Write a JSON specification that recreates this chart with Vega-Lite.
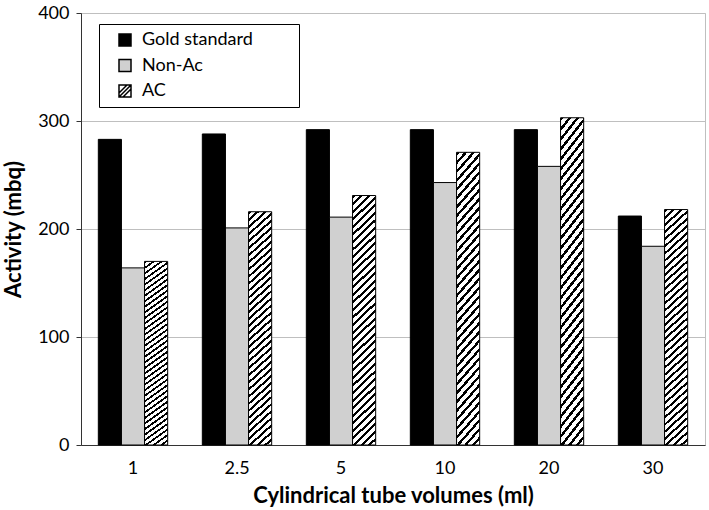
{
  "$schema": "https://vega.github.io/schema/vega-lite/v6.json",
  "width": 624,
  "height": 432,
  "autosize": {"type": "none"},
  "padding": {"left": 81, "top": 13, "right": 4, "bottom": 65},
  "background": "white",
  "config": {"view": {"stroke": "#bfbfbf"}, "font": "Lato"},
  "data": {"values": [
    {"volume": "1", "series": "Gold standard", "activity": 283},
    {"volume": "1", "series": "Non-Ac", "activity": 164},
    {"volume": "1", "series": "AC", "activity": 170},
    {"volume": "2.5", "series": "Gold standard", "activity": 288},
    {"volume": "2.5", "series": "Non-Ac", "activity": 201},
    {"volume": "2.5", "series": "AC", "activity": 216},
    {"volume": "5", "series": "Gold standard", "activity": 292},
    {"volume": "5", "series": "Non-Ac", "activity": 211},
    {"volume": "5", "series": "AC", "activity": 231},
    {"volume": "10", "series": "Gold standard", "activity": 292},
    {"volume": "10", "series": "Non-Ac", "activity": 243},
    {"volume": "10", "series": "AC", "activity": 271},
    {"volume": "20", "series": "Gold standard", "activity": 292},
    {"volume": "20", "series": "Non-Ac", "activity": 258},
    {"volume": "20", "series": "AC", "activity": 303},
    {"volume": "30", "series": "Gold standard", "activity": 212},
    {"volume": "30", "series": "Non-Ac", "activity": 184},
    {"volume": "30", "series": "AC", "activity": 218}
  ]},
  "encoding": {
    "x": {"field": "volume", "type": "ordinal", "sort": ["1", "2.5", "5", "10", "20", "30"],
      "scale": {"paddingInner": 0.333, "paddingOuter": 0.1665},
      "axis": {"title": "Cylindrical tube volumes (ml)", "labelAngle": 0, "ticks": false, "labelPadding": 14, "labelFontSize": 18, "labelColor": "#000", "titleFontSize": 22, "titleFontWeight": "bold", "titleColor": "#000", "titlePadding": 8, "domainColor": "#333", "grid": false}},
    "y": {"field": "activity", "type": "quantitative", "scale": {"domain": [0, 400]},
      "axis": {"title": "Activity (mbq)", "values": [0, 100, 200, 300, 400], "tickSize": 5, "labelPadding": 7, "labelFontSize": 18, "labelColor": "#000", "gridColor": "#bfbfbf", "domainColor": "#333", "tickColor": "#333", "titleFontSize": 22, "titleFontWeight": "bold", "titleColor": "#000", "titlePadding": 12}}
  },
  "layer": [
    {
      "mark": {"type": "bar", "stroke": "#000", "strokeWidth": 1},
      "encoding": {
        "xOffset": {"field": "series", "type": "nominal", "sort": ["Gold standard", "Non-Ac", "AC"]},
        "fill": {
          "condition": [
            {"test": "datum.series === 'AC'", "value":
              {"gradient": "linear", "x1": 0, "y1": 0, "x2": 0.0973, "y2": 1.081, "stops": [
                {"offset": 0, "color": "#000"}, {"offset": 0.011, "color": "#000"}, {"offset": 0.011, "color": "#fff"}, {"offset": 0.02778, "color": "#fff"},
                {"offset": 0.02778, "color": "#000"}, {"offset": 0.03878, "color": "#000"}, {"offset": 0.03878, "color": "#fff"}, {"offset": 0.05556, "color": "#fff"},
                {"offset": 0.05556, "color": "#000"}, {"offset": 0.06656, "color": "#000"}, {"offset": 0.06656, "color": "#fff"}, {"offset": 0.08333, "color": "#fff"},
                {"offset": 0.08333, "color": "#000"}, {"offset": 0.09433, "color": "#000"}, {"offset": 0.09433, "color": "#fff"}, {"offset": 0.11111, "color": "#fff"},
                {"offset": 0.11111, "color": "#000"}, {"offset": 0.12211, "color": "#000"}, {"offset": 0.12211, "color": "#fff"}, {"offset": 0.13889, "color": "#fff"},
                {"offset": 0.13889, "color": "#000"}, {"offset": 0.14989, "color": "#000"}, {"offset": 0.14989, "color": "#fff"}, {"offset": 0.16667, "color": "#fff"},
                {"offset": 0.16667, "color": "#000"}, {"offset": 0.17767, "color": "#000"}, {"offset": 0.17767, "color": "#fff"}, {"offset": 0.19444, "color": "#fff"},
                {"offset": 0.19444, "color": "#000"}, {"offset": 0.20544, "color": "#000"}, {"offset": 0.20544, "color": "#fff"}, {"offset": 0.22222, "color": "#fff"},
                {"offset": 0.22222, "color": "#000"}, {"offset": 0.23322, "color": "#000"}, {"offset": 0.23322, "color": "#fff"}, {"offset": 0.25, "color": "#fff"},
                {"offset": 0.25, "color": "#000"}, {"offset": 0.261, "color": "#000"}, {"offset": 0.261, "color": "#fff"}, {"offset": 0.27778, "color": "#fff"},
                {"offset": 0.27778, "color": "#000"}, {"offset": 0.28878, "color": "#000"}, {"offset": 0.28878, "color": "#fff"}, {"offset": 0.30556, "color": "#fff"},
                {"offset": 0.30556, "color": "#000"}, {"offset": 0.31656, "color": "#000"}, {"offset": 0.31656, "color": "#fff"}, {"offset": 0.33333, "color": "#fff"},
                {"offset": 0.33333, "color": "#000"}, {"offset": 0.34433, "color": "#000"}, {"offset": 0.34433, "color": "#fff"}, {"offset": 0.36111, "color": "#fff"},
                {"offset": 0.36111, "color": "#000"}, {"offset": 0.37211, "color": "#000"}, {"offset": 0.37211, "color": "#fff"}, {"offset": 0.38889, "color": "#fff"},
                {"offset": 0.38889, "color": "#000"}, {"offset": 0.39989, "color": "#000"}, {"offset": 0.39989, "color": "#fff"}, {"offset": 0.41667, "color": "#fff"},
                {"offset": 0.41667, "color": "#000"}, {"offset": 0.42767, "color": "#000"}, {"offset": 0.42767, "color": "#fff"}, {"offset": 0.44444, "color": "#fff"},
                {"offset": 0.44444, "color": "#000"}, {"offset": 0.45544, "color": "#000"}, {"offset": 0.45544, "color": "#fff"}, {"offset": 0.47222, "color": "#fff"},
                {"offset": 0.47222, "color": "#000"}, {"offset": 0.48322, "color": "#000"}, {"offset": 0.48322, "color": "#fff"}, {"offset": 0.5, "color": "#fff"},
                {"offset": 0.5, "color": "#000"}, {"offset": 0.511, "color": "#000"}, {"offset": 0.511, "color": "#fff"}, {"offset": 0.52778, "color": "#fff"},
                {"offset": 0.52778, "color": "#000"}, {"offset": 0.53878, "color": "#000"}, {"offset": 0.53878, "color": "#fff"}, {"offset": 0.55556, "color": "#fff"},
                {"offset": 0.55556, "color": "#000"}, {"offset": 0.56656, "color": "#000"}, {"offset": 0.56656, "color": "#fff"}, {"offset": 0.58333, "color": "#fff"},
                {"offset": 0.58333, "color": "#000"}, {"offset": 0.59433, "color": "#000"}, {"offset": 0.59433, "color": "#fff"}, {"offset": 0.61111, "color": "#fff"},
                {"offset": 0.61111, "color": "#000"}, {"offset": 0.62211, "color": "#000"}, {"offset": 0.62211, "color": "#fff"}, {"offset": 0.63889, "color": "#fff"},
                {"offset": 0.63889, "color": "#000"}, {"offset": 0.64989, "color": "#000"}, {"offset": 0.64989, "color": "#fff"}, {"offset": 0.66667, "color": "#fff"},
                {"offset": 0.66667, "color": "#000"}, {"offset": 0.67767, "color": "#000"}, {"offset": 0.67767, "color": "#fff"}, {"offset": 0.69444, "color": "#fff"},
                {"offset": 0.69444, "color": "#000"}, {"offset": 0.70544, "color": "#000"}, {"offset": 0.70544, "color": "#fff"}, {"offset": 0.72222, "color": "#fff"},
                {"offset": 0.72222, "color": "#000"}, {"offset": 0.73322, "color": "#000"}, {"offset": 0.73322, "color": "#fff"}, {"offset": 0.75, "color": "#fff"},
                {"offset": 0.75, "color": "#000"}, {"offset": 0.761, "color": "#000"}, {"offset": 0.761, "color": "#fff"}, {"offset": 0.77778, "color": "#fff"},
                {"offset": 0.77778, "color": "#000"}, {"offset": 0.78878, "color": "#000"}, {"offset": 0.78878, "color": "#fff"}, {"offset": 0.80556, "color": "#fff"},
                {"offset": 0.80556, "color": "#000"}, {"offset": 0.81656, "color": "#000"}, {"offset": 0.81656, "color": "#fff"}, {"offset": 0.83333, "color": "#fff"},
                {"offset": 0.83333, "color": "#000"}, {"offset": 0.84433, "color": "#000"}, {"offset": 0.84433, "color": "#fff"}, {"offset": 0.86111, "color": "#fff"},
                {"offset": 0.86111, "color": "#000"}, {"offset": 0.87211, "color": "#000"}, {"offset": 0.87211, "color": "#fff"}, {"offset": 0.88889, "color": "#fff"},
                {"offset": 0.88889, "color": "#000"}, {"offset": 0.89989, "color": "#000"}, {"offset": 0.89989, "color": "#fff"}, {"offset": 0.91667, "color": "#fff"},
                {"offset": 0.91667, "color": "#000"}, {"offset": 0.92767, "color": "#000"}, {"offset": 0.92767, "color": "#fff"}, {"offset": 0.94444, "color": "#fff"},
                {"offset": 0.94444, "color": "#000"}, {"offset": 0.95544, "color": "#000"}, {"offset": 0.95544, "color": "#fff"}, {"offset": 0.97222, "color": "#fff"},
                {"offset": 0.97222, "color": "#000"}, {"offset": 0.98322, "color": "#000"}, {"offset": 0.98322, "color": "#fff"}, {"offset": 1, "color": "#fff"}
              ]}},
            {"test": "datum.series === 'Non-Ac'", "value": "#d0d0d0"}
          ],
          "value": "#000"
        }
      }
    },
    {
      "transform": [{"filter": "false"}],
      "mark": {"type": "point", "filled": true, "opacity": 1, "stroke": "#000", "strokeWidth": 1.5, "size": 144},
      "encoding": {
        "fill": {"field": "series", "type": "nominal",
          "scale": {"domain": ["Gold standard", "Non-Ac", "AC"], "range": ["#000", "#d0d0d0", "#fff"]},
          "legend": {"title": null, "orient": "none", "legendX": 18, "legendY": 11, "direction": "vertical", "padding": 7,
            "strokeColor": "#000", "fillColor": "#fff", "symbolSize": 144, "symbolOffset": 10, "symbolOpacity": 1,
            "symbolStrokeWidth": 1.5, "labelFontSize": 18, "labelColor": "#000", "labelOffset": 8, "rowPadding": 7.5, "labelLimit": 400,
            "labelExpr": "datum.label + '\u2800\u2800\u2800'"}},
        "shape": {"field": "series", "type": "nominal",
          "scale": {"domain": ["Gold standard", "Non-Ac", "AC"], "range": ["square", "square", "M-1,-1H1V1H-1Z M-1,0.33L0.33,-1 M-1,1L1,-1 M-0.33,1L1,-0.33"]},
          "legend": {"title": null, "orient": "none", "legendX": 18, "legendY": 11, "direction": "vertical", "padding": 7,
            "strokeColor": "#000", "fillColor": "#fff", "symbolSize": 144, "symbolOffset": 10, "symbolOpacity": 1,
            "symbolStrokeWidth": 1.5, "labelFontSize": 18, "labelColor": "#000", "labelOffset": 8, "rowPadding": 7.5, "labelLimit": 400,
            "labelExpr": "datum.label + '\u2800\u2800\u2800'"}}
      }
    }
  ]
}
